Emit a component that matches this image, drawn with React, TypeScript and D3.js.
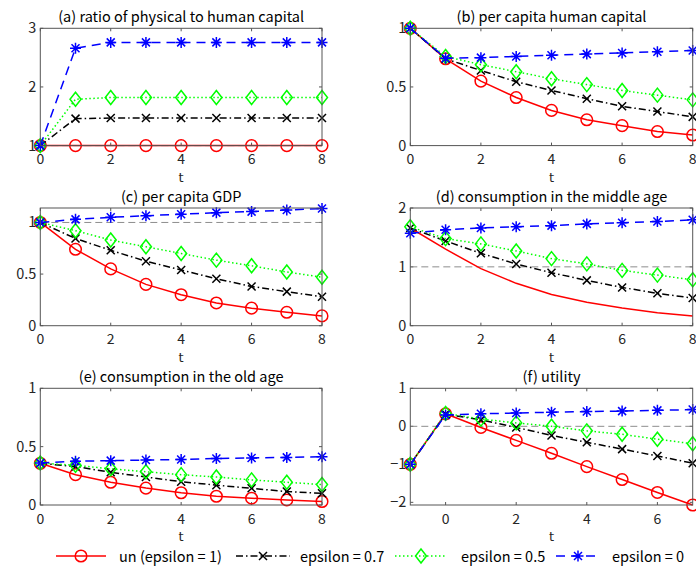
import { useRef, useEffect } from 'react';
import * as d3 from 'd3';

const W = 696;
const H = 572;
const FONT = '"Noto Sans CJK JP", "Noto Sans", sans-serif';
const LABEL_FONT = '"DejaVu Sans", sans-serif';

const T = [0, 1, 2, 3, 4, 5, 6, 7, 8];
const T_UTIL = [-1, 0, 1, 2, 3, 4, 5, 6, 7];

const SERIES = ['un (epsilon = 1)', 'epsilon = 0.7', 'epsilon = 0.5', 'epsilon = 0'];

// (a) ratio of physical to human capital
const ratioUn = [1, 1, 1, 1, 1, 1, 1, 1, 1];
const ratio07 = [1, 1.46, 1.47, 1.47, 1.47, 1.47, 1.47, 1.47, 1.47];
const ratio05 = [1, 1.79, 1.82, 1.82, 1.82, 1.82, 1.82, 1.82, 1.82];
const ratio0 = [1, 2.66, 2.76, 2.76, 2.76, 2.76, 2.76, 2.76, 2.76];

// (b) per capita human capital
const humanUn = [1, 0.74, 0.55, 0.41, 0.3, 0.22, 0.17, 0.12, 0.09];
const human07 = [1, 0.74, 0.64, 0.545, 0.47, 0.4, 0.335, 0.29, 0.245];
const human05 = [1, 0.76, 0.69, 0.63, 0.57, 0.52, 0.47, 0.43, 0.39];
const human0 = [1, 0.745, 0.75, 0.76, 0.77, 0.78, 0.79, 0.8, 0.81];

// (c) per capita GDP
const gdpUn = [1, 0.74, 0.55, 0.4, 0.3, 0.22, 0.17, 0.13, 0.095];
const gdp07 = [1, 0.845, 0.73, 0.625, 0.54, 0.455, 0.38, 0.33, 0.28];
const gdp05 = [1, 0.92, 0.83, 0.765, 0.7, 0.635, 0.58, 0.52, 0.47];
const gdp0 = [1, 1.03, 1.05, 1.065, 1.08, 1.095, 1.105, 1.12, 1.135];

// (d) consumption in the middle age
const cMidUn = [1.66, 1.3, 0.97, 0.72, 0.53, 0.4, 0.3, 0.22, 0.165];
const cMid07 = [1.66, 1.44, 1.23, 1.05, 0.9, 0.77, 0.65, 0.55, 0.47];
const cMid05 = [1.68, 1.48, 1.39, 1.27, 1.14, 1.05, 0.94, 0.86, 0.78];
const cMid0 = [1.57, 1.63, 1.66, 1.68, 1.7, 1.73, 1.75, 1.77, 1.8];

// (e) consumption in the old age
const cOldUn = [0.357, 0.26, 0.195, 0.145, 0.105, 0.075, 0.058, 0.043, 0.03];
const cOld07 = [0.357, 0.33, 0.28, 0.24, 0.2, 0.17, 0.143, 0.115, 0.1];
const cOld05 = [0.36, 0.34, 0.31, 0.285, 0.26, 0.24, 0.215, 0.195, 0.175];
const cOld0 = [0.36, 0.375, 0.38, 0.385, 0.39, 0.398, 0.403, 0.408, 0.413];

// (f) utility
const utilUn = [-1, 0.33, -0.03, -0.37, -0.71, -1.06, -1.4, -1.74, -2.07];
const util07 = [-1, 0.32, 0.17, -0.03, -0.24, -0.42, -0.6, -0.78, -0.97];
const util05 = [-1, 0.34, 0.19, 0.09, 0.0, -0.12, -0.21, -0.34, -0.46];
const util0 = [-1, 0.3, 0.33, 0.35, 0.37, 0.39, 0.4, 0.42, 0.44];

const STYLES = [
  { color: '#ff0000', dash: null, marker: 'circle' },
  { color: '#000000', dash: '7,3,1.5,3', marker: 'x' },
  { color: '#00ff00', dash: '1.5,2.5', marker: 'diamond' },
  { color: '#0000ff', dash: '9,6', marker: 'star' },
];

const PANELS = [
  { title: '(a) ratio of physical to human capital', col: 0, row: 0, t: T, xd: [0, 8], xt: [0, 2, 4, 6, 8], yd: [1, 3], yt: [1, 2, 3], ref: 1, data: [ratioUn, ratio07, ratio05, ratio0] },
  { title: '(b) per capita human capital', col: 1, row: 0, t: T, xd: [0, 8], xt: [0, 2, 4, 6, 8], yd: [0, 1], yt: [0, 0.5, 1], ref: null, data: [humanUn, human07, human05, human0] },
  { title: '(c) per capita GDP', col: 0, row: 1, t: T, xd: [0, 8], xt: [0, 2, 4, 6, 8], yd: [0, 1.14], yt: [0, 0.5, 1], ref: 1, data: [gdpUn, gdp07, gdp05, gdp0] },
  { title: '(d) consumption in the middle age', col: 1, row: 1, t: T, xd: [0, 8], xt: [0, 2, 4, 6, 8], yd: [0, 2], yt: [0, 1, 2], ref: 1, noRedMarker: true, data: [cMidUn, cMid07, cMid05, cMid0] },
  { title: '(e) consumption in the old age', col: 0, row: 2, t: T, xd: [0, 8], xt: [0, 2, 4, 6, 8], yd: [0, 1], yt: [0, 0.5, 1], ref: null, data: [cOldUn, cOld07, cOld05, cOld0] },
  { title: '(f) utility', col: 1, row: 2, t: T_UTIL, xd: [-1, 7], xt: [0, 2, 4, 6], yd: [-2.07, 1], yt: [-2, -1, 0, 1], ref: 0, data: [utilUn, util07, util05, util0] },
];

const COL_X = [[40.3, 322], [410.3, 692.7]];
const ROW_Y = [[28.3, 145.6], [208, 325.7], [388.3, 505]];

function drawMarker(g, kind, x, y, color) {
  const s = g.append('g').attr('transform', `translate(${x},${y})`)
    .attr('fill', 'none').attr('stroke', color).attr('stroke-width', 1.5);
  if (kind === 'circle') s.append('circle').attr('r', 5.8);
  if (kind === 'x') s.append('path').attr('d', 'M-4,-4L4,4M-4,4L4,-4');
  if (kind === 'diamond') s.append('path').attr('d', 'M0,-7L5.5,0L0,7L-5.5,0Z');
  if (kind === 'star') s.append('path').attr('d', 'M-5.5,0L5.5,0M0,-5.5L0,5.5M-4,-4L4,4M-4,4L4,-4');
}

function fmt(v) {
  return v < 0 ? '\u2212' + Math.abs(v) : String(v);
}

export default function App() {
  const svgRef = useRef(null);

  useEffect(() => {
    const svg = d3.select(svgRef.current);
    svg.selectAll('*').remove();
    svg.append('rect').attr('width', W).attr('height', H).attr('fill', '#fff');

    PANELS.forEach((p) => {
      const [x0, x1] = COL_X[p.col];
      const [y0, y1] = ROW_Y[p.row];
      const x = d3.scaleLinear().domain(p.xd).range([x0, x1]);
      const y = d3.scaleLinear().domain(p.yd).range([y1, y0]);
      const g = svg.append('g').attr('font-family', FONT);

      // ticks (inside, top and bottom / left and right)
      p.xt.forEach((v) => {
        g.append('line').attr('x1', x(v)).attr('x2', x(v)).attr('y1', y1).attr('y2', y1 - 3).attr('stroke', '#555');
        g.append('line').attr('x1', x(v)).attr('x2', x(v)).attr('y1', y0).attr('y2', y0 + 3).attr('stroke', '#555');
        g.append('text').attr('x', x(v)).attr('y', y1 + 18.5).attr('text-anchor', 'middle')
          .attr('font-size', 14).attr('fill', '#262626').text(fmt(v));
      });
      p.yt.forEach((v) => {
        g.append('line').attr('x1', x0).attr('x2', x0 + 3).attr('y1', y(v)).attr('y2', y(v)).attr('stroke', '#555');
        g.append('line').attr('x1', x1).attr('x2', x1 - 3).attr('y1', y(v)).attr('y2', y(v)).attr('stroke', '#555');
        g.append('text').attr('x', x0 - 4).attr('y', y(v) + 5).attr('text-anchor', 'end')
          .attr('font-size', 14.5).attr('fill', '#262626').text(fmt(v));
      });

      // reference line
      if (p.ref !== null) {
        g.append('line').attr('x1', x0).attr('x2', x1).attr('y1', y(p.ref)).attr('y2', y(p.ref))
          .attr('stroke', '#808080').attr('stroke-width', 0.9).attr('stroke-dasharray', '7,4');
      }

      // series
      p.data.forEach((vals, i) => {
        const st = STYLES[i];
        const pts = vals.map((v, k) => [x(p.t[k]), y(v)]);
        g.append('path').attr('d', d3.line()(pts)).attr('fill', 'none')
          .attr('stroke', st.color).attr('stroke-width', 1.5)
          .attr('stroke-dasharray', st.dash);
        if (!(i === 0 && p.noRedMarker)) {
          pts.forEach(([px, py]) => drawMarker(g, st.marker, px, py, st.color));
        }
      });

      // box
      g.append('rect').attr('x', x0).attr('y', y0).attr('width', x1 - x0).attr('height', y1 - y0)
        .attr('fill', 'none').attr('stroke', '#555').attr('stroke-width', 1);

      g.append('text').attr('x', (x0 + x1) / 2).attr('y', y0 - 6).attr('text-anchor', 'middle')
        .attr('font-size', 14.5).attr('fill', '#000').text(p.title);
      g.append('text').attr('x', (x0 + x1) / 2).attr('y', y1 + 36).attr('text-anchor', 'middle')
        .attr('font-family', LABEL_FONT).attr('font-size', 13).attr('fill', '#262626').text('t');
    });

    // legend
    const LEG_X = [[56, 106, 119], [236, 290, 300], [395, 447, 461], [556, 600, 612]];
    const ly = 556;
    const lg = svg.append('g').attr('font-family', FONT);
    SERIES.forEach((name, i) => {
      const st = STYLES[i];
      const [a, b, tx] = LEG_X[i];
      lg.append('line').attr('x1', a).attr('x2', b).attr('y1', ly).attr('y2', ly)
        .attr('stroke', st.color).attr('stroke-width', 1.5).attr('stroke-dasharray', st.dash);
      drawMarker(lg, st.marker, (a + b) / 2, ly, st.color);
      lg.append('text').attr('x', tx).attr('y', ly + 5.5).attr('font-size', 14.5).attr('fill', '#000').text(name);
    });
  }, []);

  return <svg ref={svgRef} width={W} height={H} style={{ position: 'absolute', left: 0, top: 0 }} />;
}
